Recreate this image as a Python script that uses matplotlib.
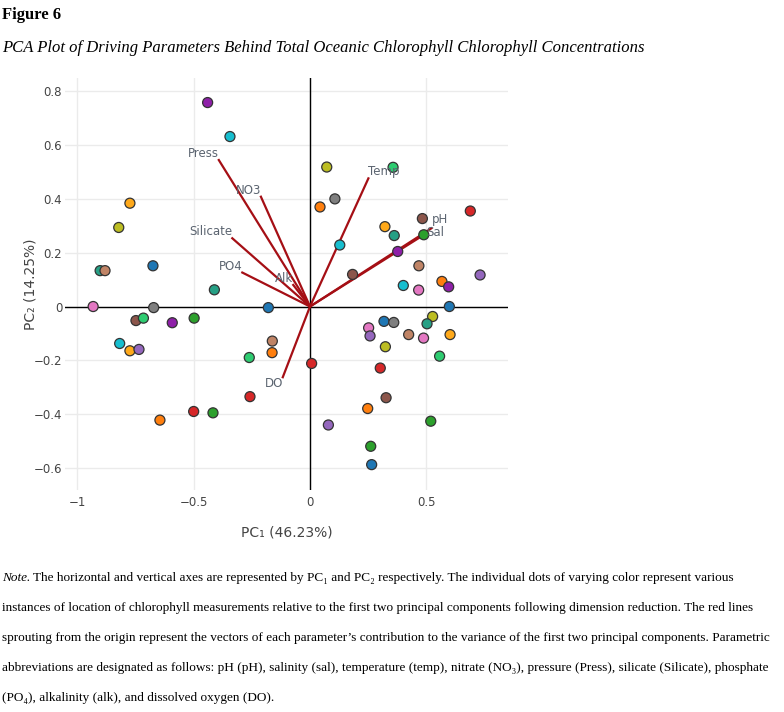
import matplotlib
matplotlib.use("Agg")
import matplotlib.pyplot as plt

# sample scores on PC1 / PC2
pc1 = [-0.44, -0.344, -0.774, -0.822, -0.902, -0.881, -0.675, -0.411, -0.932, -0.672,
       -0.179, 0.043, 0.072, 0.357, 0.107, 0.689, 0.483, 0.322, 0.362, 0.489,
       0.128, 0.377, 0.468, 0.183, 0.731, 0.401, 0.567, 0.596, 0.467, 0.599,
       -0.748, -0.716, -0.592, -0.498, -0.818, -0.774, -0.735, -0.162, -0.163, -0.261,
       0.007, -0.258, -0.5, -0.417, -0.645, 0.527, 0.503, 0.318, 0.36, 0.252,
       0.258, 0.424, 0.488, 0.602, 0.324, 0.557, 0.302, 0.327, 0.248, 0.519,
       0.079, 0.261, 0.265]
pc2 = [0.756, 0.63, 0.383, 0.293, 0.133, 0.133, 0.151, 0.062, 0.0, -0.004,
       -0.004, 0.369, 0.517, 0.516, 0.399, 0.354, 0.326, 0.296, 0.263, 0.266,
       0.228, 0.204, 0.151, 0.119, 0.117, 0.078, 0.093, 0.073, 0.061, 0.0,
       -0.052, -0.043, -0.06, -0.043, -0.137, -0.164, -0.159, -0.128, -0.171, -0.189,
       -0.211, -0.334, -0.389, -0.394, -0.421, -0.037, -0.064, -0.055, -0.059, -0.079,
       -0.109, -0.104, -0.117, -0.104, -0.149, -0.184, -0.228, -0.338, -0.378, -0.425,
       -0.439, -0.518, -0.586]
dot_colors = ["dpurple", "cyan", "gold", "olive", "teal", "tan", "blue", "teal", "pink", "gray",
              "blue", "orange", "olive", "lgreen", "gray", "red", "brown", "gold", "teal", "green",
              "cyan", "dpurple", "tan", "brown", "lpurple", "cyan", "orange", "dpurple", "pink", "blue",
              "brown", "lgreen", "dpurple", "green", "cyan", "gold", "lpurple", "tan", "orange", "lgreen",
              "red", "red", "red", "green", "orange", "olive", "teal", "blue", "gray", "pink",
              "lpurple", "tan", "pink", "gold", "olive", "lgreen", "red", "brown", "orange", "green",
              "lpurple", "green", "blue"]

# loading vectors
params = ["Press", "NO3", "Silicate", "PO4", "Alk", "DO", "Temp", "pH", "Sal"]
load_x = [-0.392, -0.211, -0.334, -0.291, -0.072, -0.117, 0.251, 0.522, 0.501]
load_y = [0.543, 0.407, 0.253, 0.126, 0.08, -0.262, 0.475, 0.29, 0.272]

x_ticks = [-1, -0.5, 0, 0.5]
x_ticklabels = ["\u22121", "\u22120.5", "0", "0.5"]
y_ticks = [-0.6, -0.4, -0.2, 0, 0.2, 0.4, 0.6, 0.8]
y_ticklabels = ["\u22120.6", "\u22120.4", "\u22120.2", "0", "0.2", "0.4", "0.6", "0.8"]

palette = {
    "blue": "#1f77b4", "orange": "#ff7f0e", "green": "#2ca02c", "red": "#d62728",
    "lpurple": "#9467bd", "brown": "#8c564b", "pink": "#e377c2", "gray": "#7f7f7f",
    "olive": "#bcbd22", "cyan": "#17becf", "dpurple": "#8e1fa8", "lgreen": "#2ecc71",
    "gold": "#ffa91a", "teal": "#26a085", "tan": "#c08466",
}

note_lines = [
    "The horizontal and vertical axes are represented by PC\u2081 and PC\u2082 respectively. The individual dots of varying color represent various",
    "instances of location of chlorophyll measurements relative to the first two principal components following dimension reduction. The red lines",
    "sprouting from the origin represent the vectors of each parameter\u2019s contribution to the variance of the first two principal components. Parametric",
    "abbreviations are designated as follows: pH (pH), salinity (sal), temperature (temp), nitrate (NO\u2083), pressure (Press), silicate (Silicate), phosphate",
    "(PO\u2084), alkalinity (alk), and dissolved oxygen (DO).",
]

W, H = 784, 712
fig = plt.figure(figsize=(W / 100, H / 100), dpi=100)
ax = fig.add_axes([65 / W, 1 - 490 / H, (508 - 65) / W, (490 - 78) / H])
ax.set_xlim(-1.053, 0.851)
ax.set_ylim(-0.68, 0.847)
for s in ax.spines.values():
    s.set_visible(False)
ax.set_xticks(x_ticks)
ax.set_xticklabels(x_ticklabels)
ax.set_yticks(y_ticks)
ax.set_yticklabels(y_ticklabels)
ax.tick_params(length=0, labelsize=8.5, labelcolor="#444444")
ax.tick_params(axis="x", pad=4)
ax.tick_params(axis="y", pad=2)
ax.grid(True, color="#ebebeb", linewidth=1)
ax.set_axisbelow(True)
ax.axhline(0, color="black", linewidth=1, zorder=1)
ax.axvline(0, color="black", linewidth=1, zorder=1)

for lx, ly in zip(load_x, load_y):
    ax.plot([0, lx], [0, ly], color="#a50f15", linewidth=1.6, zorder=2)

ax.scatter(pc1, pc2, s=52, c=[palette[c] for c in dot_colors],
           edgecolors="#333333", linewidths=0.9, zorder=3)

for name, lx, ly in zip(params, load_x, load_y):
    ha = "right" if lx < 0 else "left"
    va = "bottom" if ly > 0 else "top"
    dy = 0
    if name == "pH":
        dy = 2
    if name == "Sal":
        va = "top"
        dy = 5
    ax.annotate(name, (lx, ly), xytext=(0, dy), textcoords="offset points",
                ha=ha, va=va, fontsize=8.5, color="#5b6470", zorder=4)

ax.set_xlabel("PC\u2081 (46.23%)", fontsize=10, color="#444444", va="center")
ax.xaxis.set_label_coords(0.5, (490 - 533) / 412)
ax.set_ylabel("PC\u2082 (14.25%)", fontsize=10, color="#444444", va="center")
ax.yaxis.set_label_coords((30 - 65) / 443, 0.5)

serif = ["Liberation Serif", "DejaVu Serif"]
fig.text(2 / W, 1 - 15 / H, "Figure 6", fontsize=12, fontweight="bold",
         family=serif, va="center", ha="left")
fig.text(2 / W, 1 - 48 / H, "PCA Plot of Driving Parameters Behind Total Oceanic Chlorophyll Chlorophyll Concentrations",
         fontsize=12, style="italic", family=serif, va="center", ha="left")

renderer = fig.canvas.get_renderer()
note = fig.text(2 / W, 1 - 578 / H, "Note.", fontsize=9.5, style="italic",
                family=serif, va="center", ha="left")
nw = note.get_window_extent(renderer).width
for i, line in enumerate(note_lines):
    x0 = 2 + nw + 3 if i == 0 else 2
    fig.text(x0 / W, 1 - (578 + 30 * i) / H, line, fontsize=9.5,
             family=serif, va="center", ha="left")

fig.savefig("out.png", dpi=100)
